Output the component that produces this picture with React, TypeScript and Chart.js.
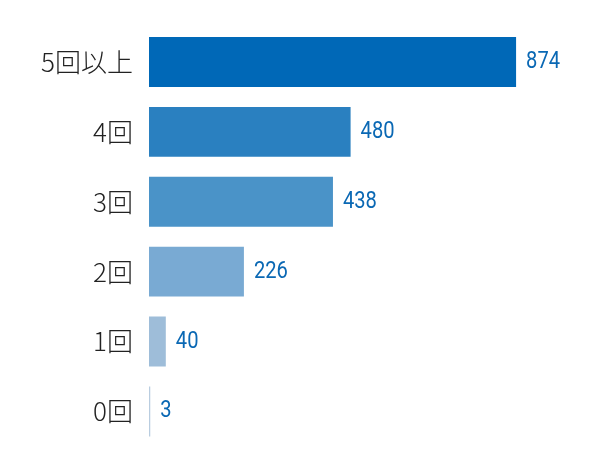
import React, { useEffect, useRef } from "react";
import { Chart, registerables } from "chart.js";

Chart.register(...registerables);

const categories = ["5回以上", "4回", "3回", "2回", "1回", "0回"];
const values = [874, 480, 438, 226, 40, 3];
const barColors = ["#0068b7", "#2a80c0", "#4a93c8", "#79aad3", "#9ebdd9", "#b9cde0"];
const valueColor = "#0a68b4";

const valueLabels = {
  id: "valueLabels",
  afterDatasetsDraw(chart: any) {
    const ctx = chart.ctx;
    const meta = chart.getDatasetMeta(0);
    const sx = 0.84;
    meta.data.forEach((bar: any, i: number) => {
      ctx.save();
      ctx.fillStyle = valueColor;
      ctx.font = "400 24px 'Roboto', sans-serif";
      ctx.textAlign = "left";
      ctx.textBaseline = "middle";
      ctx.translate(bar.x + 10, bar.y);
      ctx.scale(sx, 1);
      ctx.fillText(String(values[i]), 0, 0);
      ctx.restore();
    });
  },
};

export default function App() {
  const ref = useRef<HTMLCanvasElement>(null);
  useEffect(() => {
    if (!ref.current) return;
    const chart = new Chart(ref.current, {
      type: "bar",
      data: {
        labels: categories,
        datasets: [
          {
            data: values,
            backgroundColor: barColors,
            borderWidth: 0,
            barPercentage: 50 / 70,
            categoryPercentage: 1,
          },
        ],
      },
      options: {
        indexAxis: "y",
        animation: false,
        responsive: false,
        maintainAspectRatio: false,
        layout: { padding: { top: 27, bottom: 3, left: 0, right: 31 } },
        plugins: { legend: { display: false }, tooltip: { enabled: false } },
        scales: {
          x: { display: false, min: 0, max: 1000 },
          y: {
            grid: { display: false },
            border: { display: false },
            ticks: {
              color: "#222",
              padding: 8,
              font: { size: 26, weight: "300", family: "'Noto Sans CJK JP', sans-serif" },
            },
            afterFit(scale: any) {
              scale.width = 149;
            },
          },
        },
      },
      plugins: [valueLabels],
    });
    return () => chart.destroy();
  }, []);
  return (
    <div style={{ position: "fixed", left: 0, top: 0, width: 600, height: 450, overflow: "hidden", background: "#fff" }}>
      <canvas ref={ref} width={600} height={470} />
    </div>
  );
}
